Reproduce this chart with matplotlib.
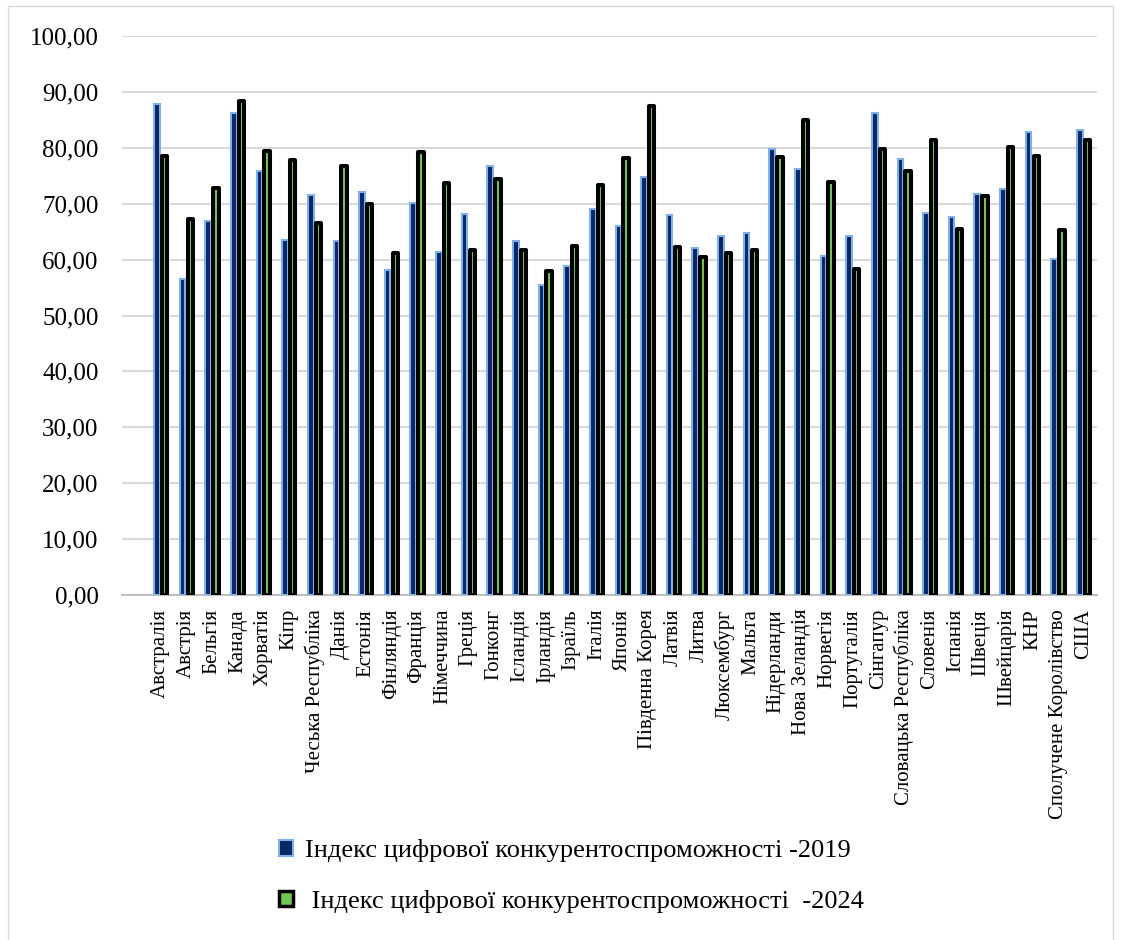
import numpy as np
import matplotlib
matplotlib.use("Agg")
import matplotlib.pyplot as plt
from matplotlib.patches import Patch, Rectangle

plt.rcParams['font.family'] = ['Liberation Serif', 'DejaVu Serif']

# країни та значення індексу
countries = ["Австралія", "Австрія", "Бельгія", "Канада", "Хорватія", "Кіпр",
             "Чеська Республіка", "Данія", "Естонія", "Фінляндія", "Франція",
             "Німеччина", "Греція", "Гонконг", "Ісландія", "Ірландія", "Ізраїль",
             "Італія", "Японія", "Південна Корея", "Латвія", "Литва", "Люксембург",
             "Мальта", "Нідерланди", "Нова Зеландія", "Норвегія", "Португалія",
             "Сінгапур", "Словацька Республіка", "Словенія", "Іспанія", "Швеція",
             "Швейцарія", "КНР", "Сполучене Королівство", "США"]

idx_2019 = [87.8, 56.5, 66.9, 86.2, 75.9, 63.5, 71.6, 63.4, 72.1, 58.1, 70.2,
            61.3, 68.2, 76.8, 63.4, 55.4, 58.9, 69.0, 66.1, 74.7, 67.9, 62.0, 64.3,
            64.7, 79.8, 76.2, 60.7, 64.3, 86.2, 78.0, 68.4, 67.7, 71.8, 72.7, 82.9,
            60.1, 83.2]
idx_2024 = [78.6, 67.2, 72.8, 88.4, 79.4, 77.8, 66.5, 76.8, 69.9, 61.1, 79.2,
            73.7, 61.7, 74.5, 61.7, 58.0, 62.5, 73.4, 78.2, 87.4, 62.3, 60.4, 61.1,
            61.7, 78.3, 84.9, 73.8, 58.4, 79.8, 75.9, 81.4, 65.4, 71.4, 80.2, 78.5,
            65.3, 81.4]

label_2019 = "Індекс цифрової конкурентоспроможності -2019"
label_2024 = " Індекс цифрової конкурентоспроможності  -2024"

navy = "#0b2762"
light_blue = "#7fb0ee"
green = "#72c653"

fig = plt.figure(figsize=(11.21, 9.40), dpi=100)
ax = fig.add_axes([122/1121, 1 - 595/940, (1097 - 122)/1121, (595 - 36)/940])

x = np.arange(len(countries))
ax.bar(x - 0.15, idx_2019, width=0.22, color=navy, edgecolor=light_blue,
       linewidth=1.5, zorder=3)
ax.bar(x + 0.15, idx_2024, width=0.21, color=green, edgecolor="black",
       linewidth=2.9, joinstyle="round", zorder=4)

ax.set_ylim(0, 100)
ax.set_xlim(-1.51, len(countries) - 0.48)
ax.set_yticks(np.arange(0, 101, 10))
ax.set_yticklabels([f"{v:.2f}".replace(".", ",") for v in np.arange(0, 101, 10)],
                   fontsize=18)
ax.set_xticks(x)
ax.set_xticklabels(countries, rotation=90, fontsize=15, va="top", ha="center")
ax.tick_params(axis="both", length=0)
ax.tick_params(axis="y", pad=17)
ax.tick_params(axis="x", pad=10)

ax.grid(axis="y", color="#d9d9d9", linewidth=1.5, zorder=0)
ax.set_axisbelow(True)
for side in ["top", "right", "left"]:
    ax.spines[side].set_visible(False)
ax.spines["bottom"].set_color("#bfbfbf")
ax.spines["bottom"].set_linewidth(1.5)

handles = [Patch(facecolor=navy, edgecolor=light_blue, linewidth=1.5),
           Patch(facecolor=green, edgecolor="black", linewidth=2.5)]
fig.legend(handles, [label_2019, label_2024], loc="center left",
           bbox_to_anchor=(255/1121, 1 - 876/940), frameon=False, fontsize=19,
           handlelength=0.55, handleheight=0.55, handletextpad=0.45,
           labelspacing=1.05)

# рамка навколо діаграми
fig.patches.append(Rectangle((8/1121, -0.05), (1113 - 8)/1121, 1.05 - 6/940,
                             transform=fig.transFigure, fill=False,
                             edgecolor="#d9d9d9", linewidth=1.0))

fig.savefig("out.png", dpi=100)
